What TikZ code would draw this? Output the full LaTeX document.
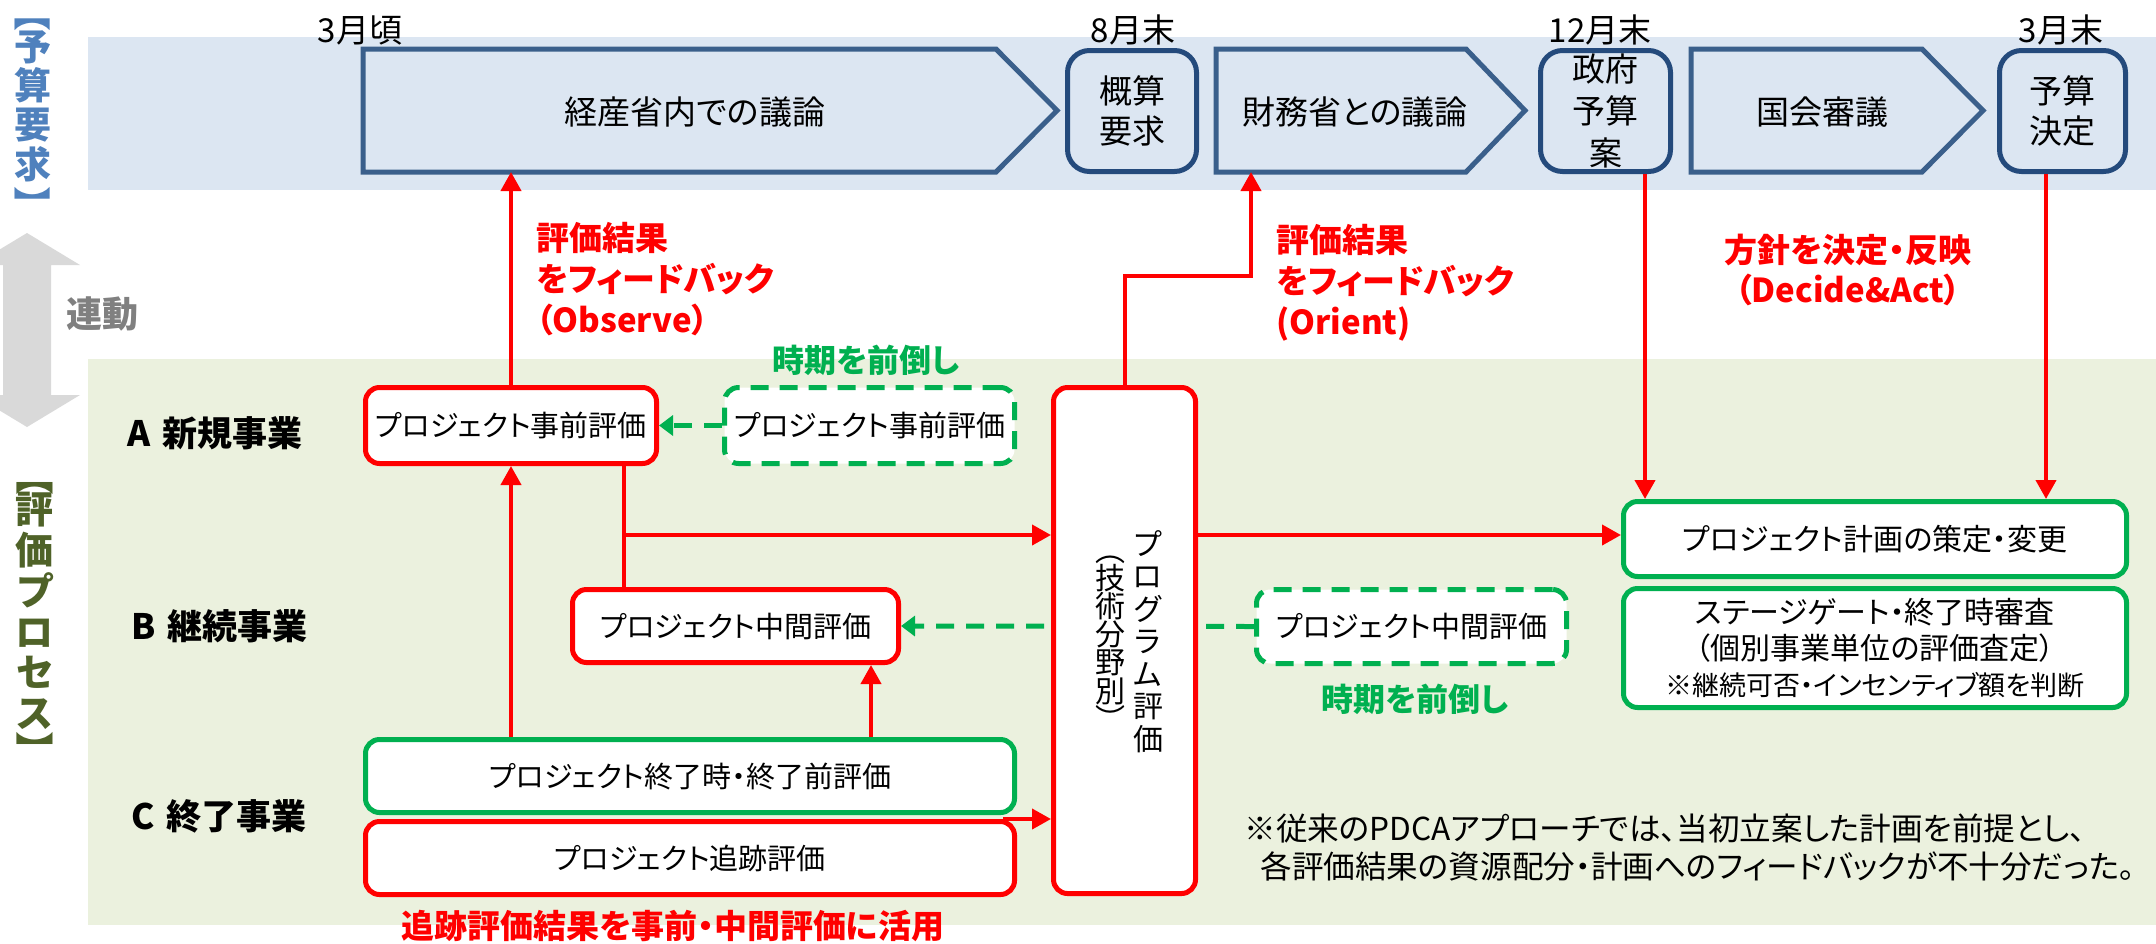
\documentclass[tikz,border=0pt]{standalone}
\usepackage{fontspec}
\newfontfamily\jp[RawFeature=+palt]{Noto Sans CJK JP}
\usetikzlibrary{arrows.meta}
\definecolor{bandblue}{HTML}{DCE6F2}
\definecolor{bandgreen}{HTML}{EBF1DE}
\definecolor{pentblue}{HTML}{3A5F8B}
\definecolor{boxblue}{HTML}{244A7C}
\definecolor{mygreen}{HTML}{00B050}
\definecolor{sideblue}{HTML}{4F81BD}
\definecolor{sidegreen}{HTML}{4F6228}
\definecolor{grayarrow}{HTML}{D9D9D9}
\definecolor{graytext}{HTML}{808080}
\pgfdeclarelayer{back}
\pgfdeclarelayer{mid}
\pgfsetlayers{back,mid,main}
\begin{document}
\begin{tikzpicture}[x=0.5pt,y=-0.5pt,
  base/.style={font=\jp\fontsize{14.5}{17}\selectfont, inner sep=0pt, align=center},
  redbox/.style={base, draw=red, line width=2.5pt, rounded corners=7pt, fill=white},
  greenbox/.style={base, draw=mygreen, line width=2.5pt, rounded corners=7pt, fill=white},
  dashbox/.style={greenbox, dash pattern=on 9pt off 5.5pt},
  bluebox/.style={draw=boxblue, line width=2.5pt, rounded corners=11pt, font=\jp\fontsize{16.5}{20}\selectfont, align=center, inner sep=0pt},
  pent/.style={draw=pentblue, line width=2.5pt},
  pentlabel/.style={font=\jp\fontsize{16.5}{20}\selectfont, inner sep=0pt},
  redline/.style={draw=red, line width=2pt},
  redarrow/.style={redline, -{Triangle[length=9.5pt,width=10pt]}},
  greenarrow/.style={draw=mygreen, line width=2.5pt, dash pattern=on 9pt off 6pt, -{Triangle[length=7pt,width=10pt]}},
  redlabel/.style={font=\jp\bfseries\fontsize{16.5}{20.5}\selectfont, text=red, inner sep=0pt},
  greenlabel/.style={font=\jp\bfseries\fontsize{16}{20}\selectfont, text=mygreen, inner sep=0pt},
  month/.style={font=\jp\fontsize{16.5}{20}\selectfont, inner sep=0pt},
  rowlabel/.style={font=\jp\bfseries\fontsize{17.5}{20}\selectfont, anchor=west, inner sep=0pt},
  vstack/.style={align=center, inner sep=0pt, execute at begin node={\lineskiplimit=-100pt\lineskip=0pt}},
  sideb/.style={font=\jp\bfseries\fontsize{18.5}{19.65}\selectfont, text=sideblue, inner sep=0pt},
  sideg/.style={font=\jp\bfseries\fontsize{19}{20.4}\selectfont, text=sidegreen, inner sep=0pt}
]
\useasboundingbox (0,0) rectangle (2156,943);
\begin{pgfonlayer}{back}
  \fill[white] (0,0) rectangle (2156,943);
  \fill[bandblue] (88,37) rectangle (2156,190);
  \fill[bandgreen] (88,359) rectangle (2156,925);
  \fill[grayarrow] (27,233) -- (80,265) -- (51,265) -- (51,395) -- (80,395) -- (27,427)
     -- (-26,395) -- (3,395) -- (3,265) -- (-26,265) -- cycle;
\end{pgfonlayer}

% side labels
\node[sideb, rotate=-90] (sideBo) at (33,21) {【};
\node[sideb, vstack] (sideB) at (33,106) {予\\算\\要\\求};
\node[sideb, rotate=-90] (sideBc) at (33,197) {】};
\node[sideg, rotate=-90] (sideGo) at (35,485) {【};
\node[sideg, vstack] (sideG) at (35,611) {評\\価\\プ\\ロ\\セ\\ス};
\node[sideg, rotate=-90] (sideGc) at (35,742) {】};
\node[font=\jp\bfseries\fontsize{18}{20}\selectfont, text=graytext, inner sep=0pt] (rendo) at (102,314) {連動};

% month labels
\node[month] (m1) at (360,30) {3月頃};
\node[month] (m2) at (1133,30) {8月末};
\node[month] (m3) at (1600,30) {12月末};
\node[month] (m4) at (2061,30) {3月末};

% top pentagons
\draw[pent] (363,49) -- (996,49) -- (1057,110.5) -- (996,172) -- (363,172) -- cycle;
\draw[pent] (1216,49) -- (1466,49) -- (1525,110.5) -- (1466,172) -- (1216,172) -- cycle;
\draw[pent] (1691,49) -- (1922,49) -- (1983,110.5) -- (1922,172) -- (1691,172) -- cycle;
\node[pentlabel] (p1) at (695,112) {経産省内での議論};
\node[pentlabel] (p2) at (1355,112) {財務省との議論};
\node[pentlabel] (p3) at (1822,112) {国会審議};
\coordinate (p1b) at (511,172);
\coordinate (p2b) at (1251,172);

% top rounded boxes
\node[bluebox, minimum width=64.5pt, minimum height=60.5pt] (b1) at (1132,111) {概算\\要求};
\node[bluebox, minimum width=65pt, minimum height=60.5pt, font=\jp\fontsize{16.5}{21}\selectfont] (b2) at (1605.5,111) {政府\\予算\\案};
\node[bluebox, minimum width=63pt, minimum height=60.5pt] (b3) at (2062.5,111) {予算\\決定};

% evaluation boxes
\node[redbox, minimum width=145.5pt, minimum height=38pt] (evA) at (511,425.5) {プロジェクト事前評価};
\node[dashbox, minimum width=145pt, minimum height=38pt] (dA) at (869.5,425.5) {プロジェクト事前評価};
\node[redbox, minimum width=163pt, minimum height=36.5pt] (evB) at (735.5,626) {プロジェクト中間評価};
\node[dashbox, minimum width=155pt, minimum height=37pt] (dB) at (1411.5,626.5) {プロジェクト中間評価};
\node[greenbox, minimum width=324.5pt, minimum height=36.5pt] (evC1) at (690,776) {プロジェクト終了時・終了前評価};
\node[redbox, minimum width=324.5pt, minimum height=36.5pt] (evC2) at (690,858) {プロジェクト追跡評価};
\node[redbox, minimum width=71pt, minimum height=253pt] (prog) at (1124.5,640.5) {};
\node[vstack, font=\jp\fontsize{15}{16.25}\selectfont] (progT1) at (1148,641.5) {プ\\ロ\\グ\\ラ\\ム\\評\\価};
\node[vstack, font=\jp\fontsize{15}{14.1}\selectfont] (progT2) at (1110,643) {︵\\技\\術\\分\\野\\別\\︶};
\node[greenbox, minimum width=251.5pt, minimum height=37.5pt, font=\jp\fontsize{15}{17}\selectfont] (plan) at (1875,539) {プロジェクト計画の策定・変更};
\node[greenbox, minimum width=251.5pt, minimum height=59.5pt, font=\jp\fontsize{15}{18}\selectfont] (gate) at (1875,648)
  {ステージゲート・終了時審査\\（個別事業単位の評価査定）\\{\fontsize{13.5}{16}\selectfont ※継続可否・インセンティブ額を判断}};

% row labels
\node[rowlabel] (rowA) at (127,433) {A\hspace{6pt}新規事業};
\node[rowlabel] (rowB) at (131,626) {B\hspace{6pt}継続事業};
\node[rowlabel] (rowC) at (131,816) {C\hspace{6pt}終了事業};

% labels
\node[redlabel, anchor=north west, align=left] (lObs) at (536,221.5) {評価結果\\をフィードバック\\（Observe）};
\node[redlabel, anchor=north west, align=left] (lOri) at (1276,223.5) {評価結果\\をフィードバック\\(Orient)};
\node[redlabel, anchor=north, align=center, font=\jp\bfseries\fontsize{16.5}{20}\selectfont] (lDA) at (1848,233.5) {方針を決定・反映\\（Decide\&Act）};
\node[greenlabel] (lG1) at (866,360) {時期を前倒し};
\node[greenlabel] (lG2) at (1415,699) {時期を前倒し};
\node[redlabel] (lTr) at (673,926) {追跡評価結果を事前・中間評価に活用};
\node[font=\jp\fontsize{15.8}{19}\selectfont, anchor=north west, align=left, inner sep=0pt] (note) at (1244,813.5)
  {※従来のPDCAアプローチでは、当初立案した計画を前提とし、\\\hspace*{8pt}各評価結果の資源配分・計画へのフィードバックが不十分だった。};

% connectors
\coordinate (xAB) at (624,0);
\coordinate (brA) at (624,535);
\coordinate (oriTurn) at (1251,276);
\coordinate (xB2) at (1645,0);
\coordinate (xB3) at (2046,0);
\coordinate (xC1) at (871,0);

\draw[redarrow] (evA.north) -- (evA.north |- p1b);
\draw[redarrow] (evC1.north -| evA.south) -- (evA.south);
\draw[redline] (evA.south -| xAB) -- (evB.north -| xAB);
\draw[redarrow] (brA) -- (prog.west |- brA);
\draw[redarrow] (evC1.north -| xC1) -- (evB.south -| xC1);
\draw[redarrow] ([xshift=-7pt]evC2.north east) -- (evC2.north east -| prog.west);
\draw[redarrow] (prog.north) |- (oriTurn) -- (p2b);
\draw[redarrow] (prog.east |- brA) -- (plan.west |- brA);
\draw[redarrow] (b2.south -| xB2) -- (plan.north -| xB2);
\draw[redarrow] (b3.south -| xB3) -- (plan.north -| xB3);
\draw[greenarrow] (dA.west) -- (evA.east);
\begin{pgfonlayer}{mid}
\draw[greenarrow] (dB.west) -- (evB.east);
\end{pgfonlayer}
\end{tikzpicture}
\end{document}
